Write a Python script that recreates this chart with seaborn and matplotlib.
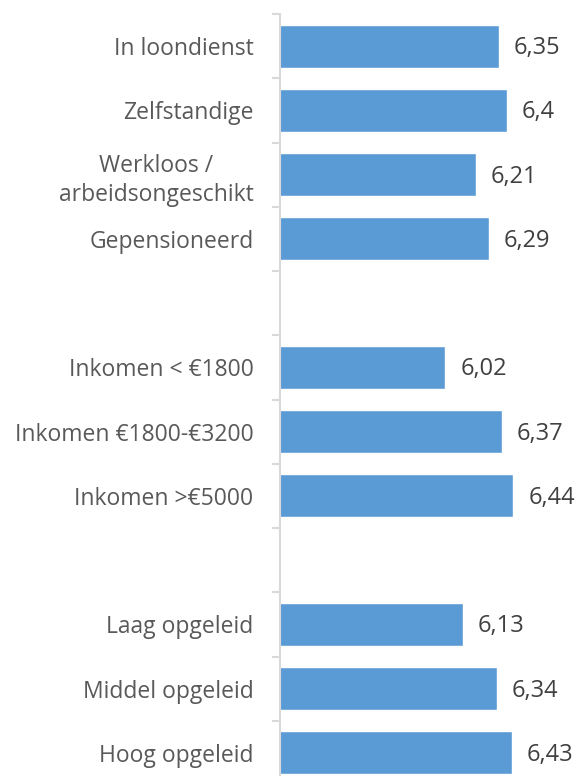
import matplotlib
matplotlib.use("Agg")
import matplotlib.pyplot as plt
import seaborn as sns
import pandas as pd
import numpy as np

categories = ["In loondienst", "Zelfstandige", "Werkloos /\narbeidsongeschikt", "Gepensioneerd",
              " ",
              "Inkomen < €1800", "Inkomen €1800-€3200", "Inkomen >€5000",
              "  ",
              "Laag opgeleid", "Middel opgeleid", "Hoog opgeleid"]
data_categories = ["In loondienst", "Zelfstandige", "Werkloos /\narbeidsongeschikt", "Gepensioneerd",
                   "Inkomen < €1800", "Inkomen €1800-€3200", "Inkomen >€5000",
                   "Laag opgeleid", "Middel opgeleid", "Hoog opgeleid"]
values = [6.35, 6.4, 6.21, 6.29, 6.02, 6.37, 6.44, 6.13, 6.34, 6.43]
value_labels = ["6,35", "6,4", "6,21", "6,29", "6,02", "6,37", "6,44", "6,13", "6,34", "6,43"]

sns.set_style("white")
plt.rcParams['font.family'] = ['Open Sans', 'DejaVu Sans']

df = pd.DataFrame({"cat": data_categories, "val": values})

W, H = 581, 776
fig = plt.figure(figsize=(W/100, H/100), dpi=100)
ax_left = 280 / W
ax_top = 1 - 14 / H
ax_h = 771 / H
ax = fig.add_axes([ax_left, ax_top - ax_h, 1 - ax_left, ax_h])

sns.barplot(data=df, y="cat", x="val", order=categories, orient="h",
            color="#5B9BD5", saturation=1, width=0.67, errorbar=None, ax=ax)

ax.set_xlim(5.0, 5.0 + (W - 280) / 162)
ax.set_ylim(len(categories) - 0.5, -0.5)
ax.set_xlabel("")
ax.set_ylabel("")
ax.set_xticks([])

for s in ["top", "right", "bottom"]:
    ax.spines[s].set_visible(False)
ax.spines["left"].set_color("#d9d9d9")
ax.spines["left"].set_linewidth(1.5)

ax.set_yticks(range(len(categories)))
ax.set_yticklabels(categories, fontsize=16.5, color="#595959", multialignment="center",
                   linespacing=1.32)
ax.tick_params(axis="y", which="major", length=0, pad=19)
ax.set_yticks(np.arange(-0.5, len(categories), 1.0), minor=True)
ax.tick_params(axis="y", which="minor", left=True, length=6, width=1.5, color="#d9d9d9",
               direction="out")

for cat, v, lab in zip(data_categories, values, value_labels):
    yi = categories.index(cat)
    ax.annotate(lab, xy=(v, yi), xytext=(15, -2), textcoords="offset pixels",
                va="center", ha="left", fontsize=17, color="#404040")

fig.savefig("out.png", dpi=100)
